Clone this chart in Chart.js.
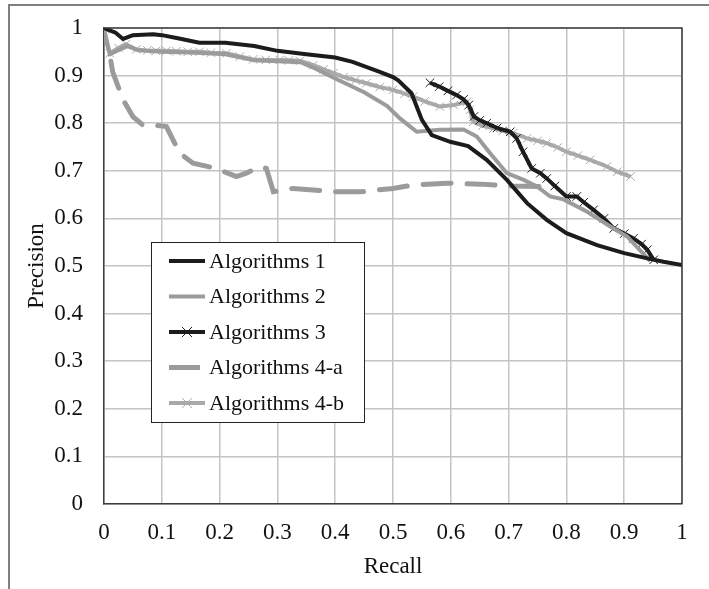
<!DOCTYPE html>
<html>
<head>
<meta charset="utf-8">
<script src="https://cdn.jsdelivr.net/npm/chart.js@4.4.0/dist/chart.umd.min.js"></script>
<style>
  html, body { margin: 0; padding: 0; background: #fff; }
  #wrap { width: 709px; height: 589px; }
</style>
</head>
<body>
<div id="wrap"><canvas id="Chart" width="709" height="589"></canvas></div>
<script>
// recall / precision pairs for each algorithm
let alg1Recall = [0, 0.02, 0.033, 0.05, 0.085, 0.10, 0.13, 0.165, 0.21, 0.26, 0.30, 0.35, 0.40, 0.43, 0.477, 0.50, 0.509, 0.532, 0.55, 0.567, 0.599, 0.63, 0.662, 0.697, 0.732, 0.766, 0.80, 0.853, 0.90, 0.94, 0.968, 1.0];
let alg1Precision = [1.0, 0.99, 0.977, 0.985, 0.987, 0.985, 0.978, 0.969, 0.969, 0.962, 0.952, 0.945, 0.938, 0.929, 0.908, 0.897, 0.89, 0.863, 0.807, 0.775, 0.761, 0.752, 0.723, 0.681, 0.632, 0.597, 0.569, 0.544, 0.527, 0.516, 0.509, 0.502];

let alg2Recall = [0, 0.01, 0.04, 0.06, 0.1, 0.16, 0.21, 0.26, 0.30, 0.34, 0.36, 0.40, 0.45, 0.49, 0.512, 0.541, 0.581, 0.622, 0.645, 0.668, 0.697, 0.726, 0.749, 0.772, 0.795, 0.836, 0.876, 0.905, 0.945];
let alg2Precision = [0.99, 0.945, 0.962, 0.953, 0.95, 0.948, 0.945, 0.932, 0.93, 0.928, 0.918, 0.894, 0.865, 0.836, 0.81, 0.782, 0.786, 0.787, 0.772, 0.737, 0.695, 0.681, 0.667, 0.646, 0.64, 0.614, 0.583, 0.562, 0.51];

let alg3Recall = [0.564, 0.58, 0.595, 0.61, 0.622, 0.631, 0.64, 0.65, 0.662, 0.68, 0.703, 0.714, 0.725, 0.74, 0.755, 0.766, 0.78, 0.80, 0.818, 0.83, 0.847, 0.865, 0.882, 0.9, 0.916, 0.93, 0.94, 0.951];
let alg3Precision = [0.885, 0.877, 0.868, 0.859, 0.85, 0.838, 0.814, 0.806, 0.80, 0.79, 0.782, 0.768, 0.74, 0.705, 0.695, 0.684, 0.668, 0.646, 0.646, 0.634, 0.618, 0.6, 0.579, 0.568, 0.558, 0.546, 0.534, 0.513];

let alg4aRecall = [0.012, 0.015, 0.033, 0.05, 0.067, 0.085, 0.108, 0.131, 0.154, 0.194, 0.229, 0.246, 0.27, 0.281, 0.293, 0.327, 0.397, 0.443, 0.50, 0.535, 0.593, 0.651, 0.708, 0.76];
let alg4aPrecision = [0.93, 0.908, 0.849, 0.814, 0.796, 0.796, 0.793, 0.737, 0.716, 0.705, 0.688, 0.695, 0.709, 0.705, 0.656, 0.663, 0.656, 0.656, 0.663, 0.67, 0.674, 0.672, 0.668, 0.667];

let alg4bRecall = [0, 0.01, 0.025, 0.038, 0.056, 0.075, 0.09, 0.108, 0.125, 0.145, 0.165, 0.185, 0.212, 0.235, 0.258, 0.28, 0.304, 0.32, 0.339, 0.362, 0.38, 0.397, 0.415, 0.435, 0.454, 0.477, 0.50, 0.52, 0.535, 0.555, 0.581, 0.605, 0.628, 0.633, 0.639, 0.655, 0.674, 0.69, 0.708, 0.732, 0.75, 0.766, 0.785, 0.80, 0.82, 0.841, 0.87, 0.888, 0.911];
let alg4bPrecision = [1.0, 0.947, 0.958, 0.966, 0.955, 0.953, 0.952, 0.952, 0.951, 0.95, 0.95, 0.948, 0.947, 0.94, 0.934, 0.933, 0.933, 0.932, 0.931, 0.922, 0.913, 0.905, 0.897, 0.89, 0.884, 0.876, 0.87, 0.862, 0.856, 0.846, 0.835, 0.838, 0.845, 0.828, 0.803, 0.795, 0.789, 0.784, 0.779, 0.768, 0.763, 0.758, 0.749, 0.74, 0.732, 0.723, 0.709, 0.698, 0.688];

let seriesNames = ['Algorithms 1', 'Algorithms 2', 'Algorithms 3', 'Algorithms 4-a', 'Algorithms 4-b'];
let axisTicks = [0, 0.1, 0.2, 0.3, 0.4, 0.5, 0.6, 0.7, 0.8, 0.9, 1];

const serif = '"Liberation Serif", "Times New Roman", serif';
const dark = '#1c1c1c';
const gray = '#9b9b9b';
const lightGray = '#a9a9a9';

function pairs(xs, ys) {
    let out = [];
    for (let i in xs) out.push({ x: xs[i], y: ys[i] });
    return out;
}

// outer frame, plot border and the boxed legend
const decor = {
    id: 'decor',
    afterDraw(chart) {
        const ctx = chart.ctx;
        const a = chart.chartArea;
        ctx.save();
        ctx.strokeStyle = '#3c3c3c';
        ctx.lineWidth = 1.5;
        ctx.beginPath();
        ctx.moveTo(a.left, a.top);
        ctx.lineTo(a.right, a.top);
        ctx.lineTo(a.right, a.bottom);
        ctx.stroke();

        ctx.strokeStyle = '#808080';
        ctx.lineWidth = 2;
        ctx.strokeRect(9, 5, 900, 900);

        // legend
        const bx = 151, by = 242, bw = 213, bh = 180;
        ctx.fillStyle = '#fff';
        ctx.fillRect(bx, by, bw, bh);
        ctx.strokeStyle = '#222';
        ctx.lineWidth = 1;
        ctx.strokeRect(bx + 0.5, by + 0.5, bw, bh);
        ctx.font = '22px ' + serif;
        ctx.textBaseline = 'middle';
        chart.data.datasets.forEach((ds, i) => {
            const y = 261 + i * 35.5;
            ctx.strokeStyle = ds.borderColor;
            ctx.lineWidth = ds.borderWidth;
            ctx.setLineDash([]);
            ctx.beginPath();
            ctx.moveTo(169, y);
            ctx.lineTo(ds.borderDash ? 200 : 205, y);
            ctx.stroke();
            if (ds.pointStyle === 'crossRot') {
                ctx.strokeStyle = ds.pointBorderColor;
                ctx.lineWidth = 1;
                ctx.beginPath();
                ctx.moveTo(182, y - 5); ctx.lineTo(192, y + 5);
                ctx.moveTo(182, y + 5); ctx.lineTo(192, y - 5);
                ctx.stroke();
            }
            ctx.fillStyle = '#111';
            ctx.fillText(ds.label, 209, y + 1);
        });
        ctx.restore();
    }
};

let chartdata = {
    datasets: [
        {
            label: seriesNames[0],
            data: pairs(alg1Recall, alg1Precision),
            borderColor: dark,
            borderWidth: 4,
            pointRadius: 0
        },
        {
            label: seriesNames[1],
            data: pairs(alg2Recall, alg2Precision),
            borderColor: gray,
            borderWidth: 4,
            pointRadius: 0
        },
        {
            label: seriesNames[2],
            data: pairs(alg3Recall, alg3Precision),
            borderColor: dark,
            borderWidth: 4,
            pointStyle: 'crossRot',
            pointRadius: 6,
            pointBorderColor: dark,
            pointBorderWidth: 1
        },
        {
            label: seriesNames[3],
            data: pairs(alg4aRecall, alg4aPrecision),
            borderColor: gray,
            borderWidth: 5,
            borderDash: [28, 16],
            borderCapStyle: 'round',
            pointRadius: 0
        },
        {
            label: seriesNames[4],
            data: pairs(alg4bRecall, alg4bPrecision),
            borderColor: lightGray,
            borderWidth: 4,
            pointStyle: 'crossRot',
            // the first point at (0, 1) carries a larger cross
            pointRadius: (c) => c.dataIndex === 0 ? 8 : 6,
            pointBorderColor: lightGray,
            pointBorderWidth: 1
        }
    ]
};

function tickText(v) {
    return String(Math.round(v * 10) / 10);
}

let graphTarget = document.getElementById('Chart');
let lineGraph = new Chart(graphTarget, {
    type: 'scatter',
    data: chartdata,
    plugins: [decor],
    options: {
        responsive: false,
        animation: false,
        showLine: true,
        layout: { padding: { left: 0, top: 28, right: 27, bottom: 0 } },
        plugins: {
            legend: { display: false },
            tooltip: { enabled: false }
        },
        elements: { line: { tension: 0 } },
        scales: {
            x: {
                type: 'linear',
                min: 0,
                max: 1,
                afterBuildTicks: (scale) => { scale.ticks = axisTicks.map(v => ({ value: v })); },
                afterFit: (scale) => { scale.height = 85; },
                ticks: {
                    callback: tickText,
                    font: { family: serif, size: 23 },
                    color: '#111',
                    padding: 15,
                    maxRotation: 0
                },
                grid: { color: '#c4c4c4', lineWidth: 1.5, drawTicks: false },
                border: { color: '#3c3c3c', width: 1.5 },
                title: {
                    display: true,
                    text: 'Recall',
                    font: { family: serif, size: 23 },
                    color: '#111',
                    padding: { top: 4, bottom: 8 }
                }
            },
            y: {
                type: 'linear',
                min: 0,
                max: 1,
                afterBuildTicks: (scale) => { scale.ticks = axisTicks.map(v => ({ value: v })); },
                afterFit: (scale) => {
                    scale.width = 104;
                    // keep the top label from pushing the plot down
                    scale.paddingTop = 0;
                    scale.paddingBottom = 0;
                },
                ticks: {
                    callback: tickText,
                    font: { family: serif, size: 23 },
                    color: '#111',
                    padding: 21
                },
                grid: { color: '#c4c4c4', lineWidth: 1.5, drawTicks: false },
                border: { color: '#3c3c3c', width: 1.5 },
                title: {
                    display: true,
                    text: 'Precision',
                    font: { family: serif, size: 23 },
                    color: '#111',
                    padding: { top: 23, bottom: 0 }
                }
            }
        }
    }
});
</script>
</body>
</html>
